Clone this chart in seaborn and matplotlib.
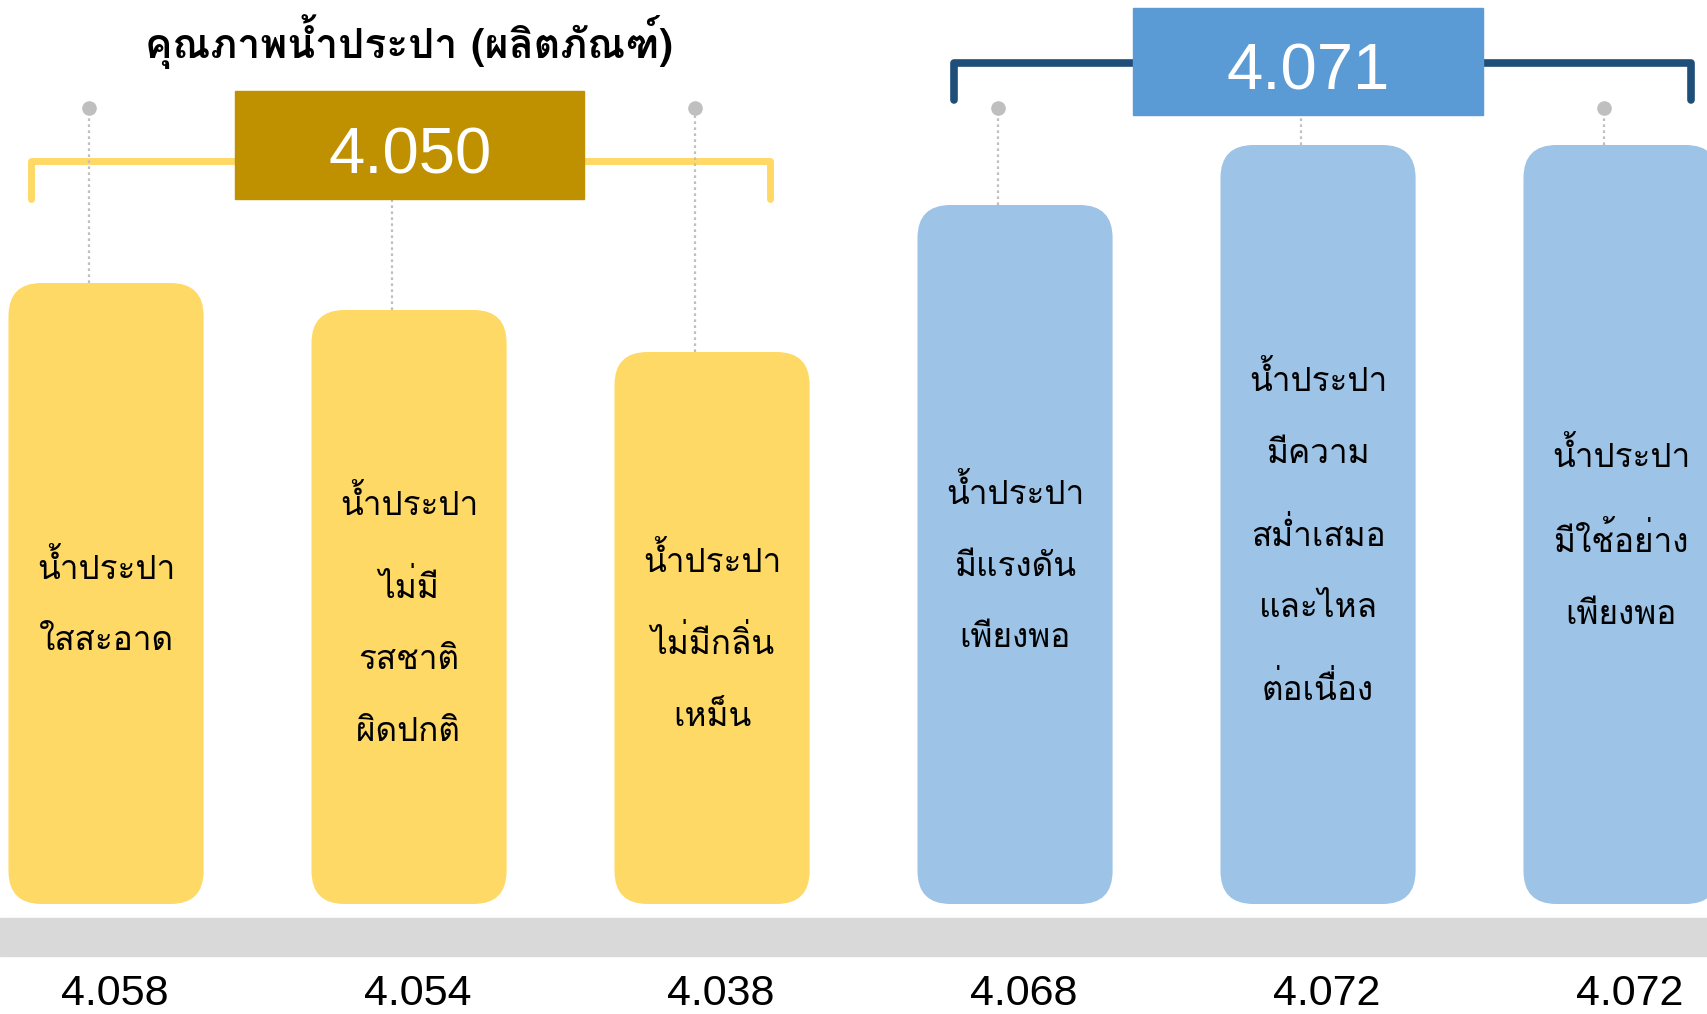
import numpy as np
import pandas as pd
import matplotlib
matplotlib.use("Agg")
import matplotlib.pyplot as plt
import seaborn as sns
from matplotlib.patches import FancyBboxPatch, Rectangle

# Data
categories = [
    "น้ำประปา\nใสสะอาด",
    "น้ำประปา\nไม่มี\nรสชาติ\nผิดปกติ",
    "น้ำประปา\nไม่มีกลิ่น\nเหม็น",
    "น้ำประปา\nมีแรงดัน\nเพียงพอ",
    "น้ำประปา\nมีความ\nสม่ำเสมอ\nและไหล\nต่อเนื่อง",
    "น้ำประปา\nมีใช้อย่าง\nเพียงพอ",
]
groups = ["product", "product", "product", "service", "service", "service"]
values = [4.058, 4.054, 4.038, 4.068, 4.072, 4.072]
# drawn bar heights (the infographic is not to scale)
bar_level = [621, 594, 552, 699, 759, 759]
group_avg = {"product": 4.050, "service": 4.071}
title = "คุณภาพน้ำประปา (ผลิตภัณฑ์)"

THAI = ["Loma", "Noto Sans Thai", "DejaVu Sans"]
NUM = ["Liberation Sans Narrow", "Liberation Sans", "DejaVu Sans"]

sns.set_theme(style="white")
plt.rcParams["font.family"] = THAI

df = pd.DataFrame({"cat": categories, "level": bar_level, "group": groups})

fig = plt.figure(figsize=(17.08, 10.14), dpi=100)
ax = fig.add_axes([0, 0, 1, 1])
sns.barplot(data=df, x="cat", y="level", hue="group",
            palette={"product": "#FFD966", "service": "#9DC3E6"},
            saturation=1, dodge=False, width=0.644, legend=False, ax=ax)
ax.set_xlim(-0.35, 5.287)
ax.set_ylim(-110, 904)
ax.axis("off")

# rounded bars
for p in list(ax.patches):
    x0, y0, w, h = p.get_x(), p.get_y(), p.get_width(), p.get_height()
    if h <= 0:
        continue
    fc = p.get_facecolor()
    p.remove()
    ax.add_patch(FancyBboxPatch((x0, y0), w, h,
                                boxstyle="round,pad=0,rounding_size=0.109",
                                mutation_aspect=303, fc=fc, ec="none", zorder=2))

# gray base band
ax.axhspan(-52, -14, color="#D9D9D9", zorder=1)

for i, (cat, v, h) in enumerate(zip(categories, values, bar_level)):
    ax.text(i, h / 2 - 10, cat, ha="center", va="center", fontsize=24,
            linespacing=2.7, color="black", zorder=3)
    ax.text(i + 0.03, -101, f"{v:.3f}", ha="center", va="baseline", fontsize=31,
            family=NUM, color="black", zorder=3)

# brackets
ax.plot([-0.2475, -0.2475, 2.191, 2.191], [705, 743, 743, 705], color="#FFD966",
        lw=5, solid_joinstyle="round", zorder=1)
ax.plot([2.799, 2.799, 5.231, 5.231], [804, 841, 841, 804], color="#1F4E79",
        lw=5.5, solid_joinstyle="round", zorder=1)

# group average boxes
ax.add_patch(Rectangle((0.426, 705), 1.152, 108, color="#BF9000", zorder=4))
ax.text(1.002, 730, f"{group_avg['product']:.3f}", ha="center", va="baseline",
        fontsize=47, family=NUM, color="white", zorder=5)
ax.add_patch(Rectangle((3.389, 789), 1.156, 107, color="#5B9BD5", zorder=4))
ax.text(3.967, 814, f"{group_avg['service']:.3f}", ha="center", va="baseline",
        fontsize=47, family=NUM, color="white", zorder=5)

# dotted connectors
off = -0.055
for i, h in enumerate(bar_level):
    if i in (1, 4):
        top = 705 if i == 1 else 789
    else:
        top = 796
        ax.plot(i + off, top, "o", color="#BFBFBF", ms=9.5, zorder=3)
    ax.plot([i + off, i + off], [h, top], color="#BFBFBF", lw=1.6,
            ls=(0, (1.2, 1.5)), zorder=1)

ax.text(1.0, 862, title, ha="center", va="center", fontsize=29.5,
        fontweight="bold", color="black")

fig.savefig("out.png", dpi=100)
